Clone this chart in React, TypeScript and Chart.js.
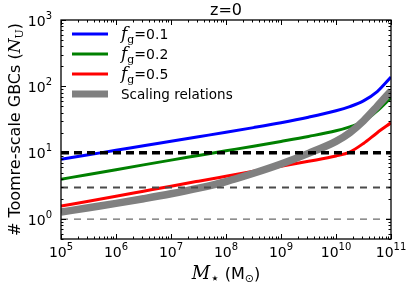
import React, { useEffect, useRef } from 'react';
import { Chart, registerables } from 'chart.js';
Chart.register(...registerables);

// ---- data ----
const stellarMass = [1e5, 3.16e5, 1e6, 3.16e6, 1e7, 3.16e7, 1e8, 3.16e8, 1e9, 3.16e9, 1e10, 1.78e10, 3.16e10, 5.62e10, 1e11];
const fg01 = [7.94, 9.29, 10.86, 12.71, 14.86, 17.38, 20.32, 23.88, 28.31, 34.28, 42.85, 49.5, 60.3, 83.2, 138.0];
const fg02 = [3.98, 4.70, 5.55, 6.55, 7.73, 9.08, 10.67, 12.53, 14.79, 17.58, 21.38, 24.55, 29.5, 42.7, 67.6];
const fg05 = [1.57, 1.86, 2.21, 2.63, 3.13, 3.72, 4.42, 5.25, 6.24, 7.41, 8.91, 10.23, 13.8, 20.0, 28.18];
const scaling = [1.27, 1.48, 1.72, 2.02, 2.40, 2.92, 3.67, 4.90, 6.76, 9.77, 14.79, 20.0, 30.2, 50.1, 85.1];
const refLevels = [10, 3, 1];
const xRange = [1e5, 1e11];
const yRange = [0.5, 1000];
const xTickExps = [5, 6, 7, 8, 9, 10, 11];
const yTickExps = [0, 1, 2, 3];
const seriesLabels = ['f_g=0.1', 'f_g=0.2', 'f_g=0.5', 'Scaling relations'];
const seriesValues = ['0.1', '0.2', '0.5'];
const titleText = 'z=0';

const SANS = '"DejaVu Sans"';
const SERIF = '"DejaVu Serif"';

type Part = { t: string; font: string; dy?: number };

function drawParts(ctx: CanvasRenderingContext2D, parts: Part[], x: number, y: number, align: 'left' | 'center' | 'right') {
  let total = 0;
  const widths = parts.map((p) => {
    ctx.font = p.font;
    const w = ctx.measureText(p.t).width;
    total += w;
    return w;
  });
  let cx = align === 'left' ? x : align === 'center' ? x - total / 2 : x - total;
  ctx.textAlign = 'left';
  ctx.textBaseline = 'alphabetic';
  parts.forEach((p, i) => {
    ctx.font = p.font;
    ctx.fillText(p.t, cx, y + (p.dy || 0));
    cx += widths[i];
  });
}

function pow10Parts(e: number): Part[] {
  return [
    { t: '10', font: `14px ${SANS}` },
    { t: String(e), font: `10px ${SANS}`, dy: -7 },
  ];
}

const decorPlugin = {
  id: 'decor',
  afterDraw(chart: any) {
    const { ctx, chartArea: a, scales } = chart;
    const xs = scales.x;
    const ys = scales.y;
    ctx.save();
    ctx.fillStyle = '#000';
    ctx.strokeStyle = '#000';

    // frame
    ctx.lineWidth = 1.3;
    ctx.strokeRect(a.left, a.top, a.right - a.left, a.bottom - a.top);

    // ticks (inward, all sides)
    ctx.lineWidth = 1;
    const seg = (x1: number, y1: number, x2: number, y2: number) => {
      ctx.beginPath();
      ctx.moveTo(x1, y1);
      ctx.lineTo(x2, y2);
      ctx.stroke();
    };
    for (let e = 5; e <= 11; e++) {
      for (let k = 1; k <= 9; k++) {
        const v = k * Math.pow(10, e);
        if (v < xRange[0] * 0.999 || v > xRange[1] * 1.001) continue;
        const px = Math.round(xs.getPixelForValue(v)) + 0.5;
        const L = k === 1 ? 5 : 2.5;
        seg(px, a.bottom, px, a.bottom - L);
        seg(px, a.top, px, a.top + L);
      }
    }
    for (let e = -1; e <= 3; e++) {
      for (let k = 1; k <= 9; k++) {
        const v = k * Math.pow(10, e);
        if (v < yRange[0] * 0.999 || v > yRange[1] * 1.001) continue;
        const py = Math.round(ys.getPixelForValue(v)) + 0.5;
        const L = k === 1 ? 5 : 2.5;
        seg(a.left, py, a.left + L, py);
        seg(a.right, py, a.right - L, py);
      }
    }

    // tick labels
    xTickExps.forEach((e) => {
      const px = xs.getPixelForValue(Math.pow(10, e));
      drawParts(ctx, pow10Parts(e), px, 257, 'center');
    });
    yTickExps.forEach((e) => {
      const py = ys.getPixelForValue(Math.pow(10, e));
      drawParts(ctx, pow10Parts(e), 52, py + 5.5, 'right');
    });

    // title
    drawParts(ctx, [{ t: titleText, font: `16px ${SANS}` }], (a.left + a.right) / 2, 15, 'center');

    // x label
    drawParts(
      ctx,
      [
        { t: 'M', font: `italic 18px ${SERIF}` },
        { t: '\u22C6', font: `15px ${SANS}`, dy: 4 },
        { t: ' (M', font: `16px ${SANS}` },
        { t: '\u2299', font: `11px ${SANS}`, dy: 3 },
        { t: ')', font: `16px ${SANS}` },
      ],
      (a.left + a.right) / 2,
      279,
      'center'
    );

    // y label
    ctx.save();
    ctx.translate(20, (a.top + a.bottom) / 2);
    ctx.rotate(-Math.PI / 2);
    drawParts(
      ctx,
      [
        { t: '# Toomre-scale GBCs (', font: `16px ${SANS}` },
        { t: 'N', font: `italic 17px ${SERIF}` },
        { t: 'U', font: `11px ${SERIF}`, dy: 3 },
        { t: ')', font: `16px ${SANS}` },
      ],
      0,
      0,
      'center'
    );
    ctx.restore();

    // legend
    const rows = [34, 54, 74, 94];
    const colors = ['#0000ff', '#008000', '#ff0000', '#808080'];
    const widths = [3, 3, 3, 7];
    rows.forEach((ry, i) => {
      ctx.strokeStyle = colors[i];
      ctx.lineWidth = widths[i];
      ctx.lineCap = 'butt';
      seg(72, ry, 108, ry);
      ctx.fillStyle = '#000';
      if (i < 3) {
        drawParts(
          ctx,
          [
            { t: 'f', font: `italic 17px ${SERIF}` },
            { t: 'g', font: `11px ${SERIF}`, dy: 4 },
            { t: '=' + seriesValues[i], font: `14px ${SANS}` },
          ],
          121,
          ry + 5,
          'left'
        );
      } else {
        drawParts(ctx, [{ t: 'Scaling relations', font: `13.5px ${SANS}` }], 121, ry + 5, 'left');
      }
    });

    ctx.restore();
  },
};

export default function App() {
  const ref = useRef<HTMLCanvasElement | null>(null);
  useEffect(() => {
    if (!ref.current) return;
    const pts = (arr: number[]) => stellarMass.map((m, i) => ({ x: m, y: arr[i] }));
    const hline = (v: number) => [
      { x: xRange[0], y: v },
      { x: xRange[1], y: v },
    ];
    const curve = (label: string, arr: number[], color: string, width: number, order: number) => ({
      label,
      data: pts(arr),
      borderColor: color,
      backgroundColor: color,
      borderWidth: width,
      pointRadius: 0,
      cubicInterpolationMode: 'monotone' as const,
      fill: false,
      order,
    });
    const chart = new Chart(ref.current, {
      type: 'line',
      data: {
        datasets: [
          {
            label: 'ref ' + refLevels[0],
            data: hline(refLevels[0]),
            borderColor: '#000000',
            borderWidth: 3.5,
            borderDash: [8, 5],
            pointRadius: 0,
            fill: false,
            order: 0,
          },
          {
            label: 'ref ' + refLevels[1],
            data: hline(refLevels[1]),
            borderColor: '#4a4a4a',
            borderWidth: 2,
            borderDash: [7, 6],
            pointRadius: 0,
            fill: false,
            order: 0,
          },
          {
            label: 'ref ' + refLevels[2],
            data: hline(refLevels[2]),
            borderColor: '#6a6a6a',
            borderWidth: 1.3,
            borderDash: [7, 6],
            pointRadius: 0,
            fill: false,
            order: 0,
          },
          curve(seriesLabels[3], scaling, '#808080', 7.5, 1),
          curve(seriesLabels[2], fg05, '#ff0000', 3, 2),
          curve(seriesLabels[1], fg02, '#008000', 3, 3),
          curve(seriesLabels[0], fg01, '#0000ff', 3, 4),
        ],
      },
      options: {
        animation: false,
        responsive: false,
        layout: { padding: { left: 61, right: 16, top: 20, bottom: 49 } },
        plugins: { legend: { display: false }, tooltip: { enabled: false }, title: { display: false } },
        scales: {
          x: { type: 'logarithmic', min: xRange[0], max: xRange[1], display: false },
          y: { type: 'logarithmic', min: yRange[0], max: yRange[1], display: false },
        },
      },
      plugins: [decorPlugin],
    });
    return () => chart.destroy();
  }, []);
  return (
    <div style={{ position: 'absolute', left: 0, top: 0, width: 407, height: 288, background: '#fff' }}>
      <canvas ref={ref} width={407} height={288} style={{ width: 407, height: 288 }} />
    </div>
  );
}
